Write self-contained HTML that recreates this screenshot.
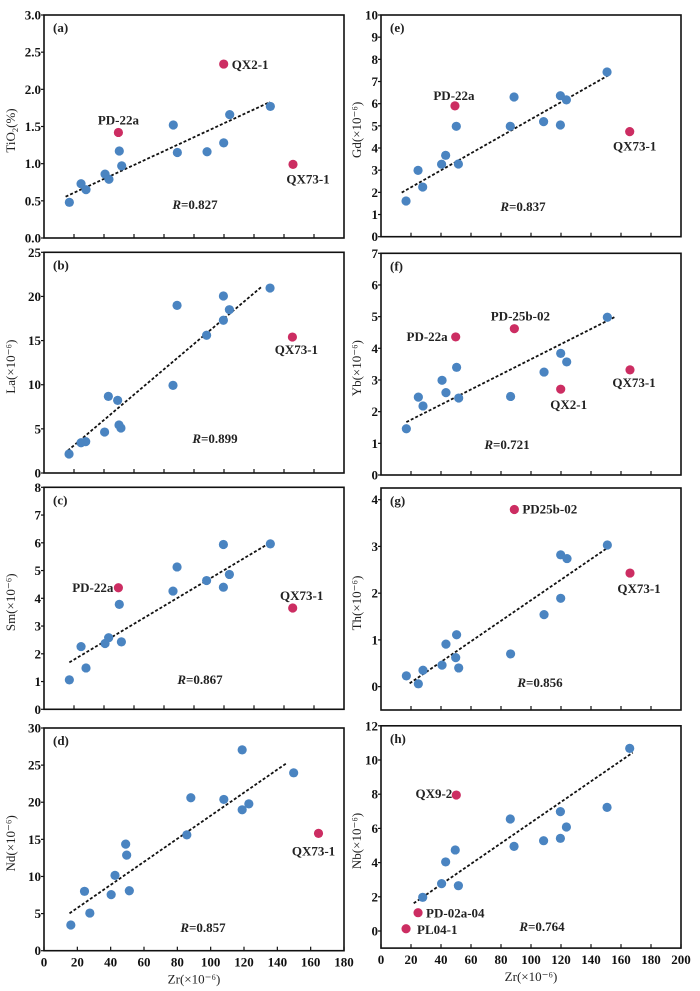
<!DOCTYPE html>
<html><head><meta charset="utf-8"><style>
html,body{margin:0;padding:0;background:#fff;}
svg{display:block;font-family:"Liberation Serif",serif;}
.tk{font-size:13px;font-weight:bold;fill:#111;}
.lab{font-size:13px;font-weight:bold;fill:#222;}
.ttl{font-size:13px;fill:#222;}
</style></head><body>
<svg id="chart" width="700" height="991" viewBox="0 0 700 991" xmlns="http://www.w3.org/2000/svg"></svg>
<script>
// ---- data ----
const aX=[16.9,24.7,28,40.7,43.3,50.2,51.8,86.2,88.9,108.7,119.8,123.8,150.9];
const aY=[0.48,0.73,0.65,0.86,0.79,1.17,0.97,1.52,1.15,1.16,1.28,1.66,1.77];
const aRedX=[49.6,119.8,166];
const aRedY=[1.42,2.34,0.99];
const aRedLabels=["PD-22a","QX2-1","QX73-1"];
const aTrend=[14.4,0.556,150.7,1.83];

const bX=[16.7,24.7,27.8,40.4,42.9,49.1,50,51.3,86,88.7,108.4,119.6,119.6,123.6,150.7];
const bY=[2.15,3.43,3.55,4.64,8.68,8.23,5.44,5.1,9.93,18.99,15.6,20.05,17.3,18.5,20.95];
const bRedX=[165.6];
const bRedY=[15.4];
const bRedLabels=["QX73-1"];
const bTrend=[15.8,2.53,145.1,21.1];

const cX=[16.9,24.7,28,40.7,43.1,50.2,51.6,86,88.7,108.4,119.6,119.6,123.6,150.9];
const cY=[1.06,2.26,1.49,2.37,2.58,3.78,2.43,4.26,5.13,4.64,5.94,4.4,4.86,5.96];
const cRedX=[49.6,165.8];
const cRedY=[4.38,3.65];
const cRedLabels=["PD-22a","QX73-1"];
const cTrend=[16.9,1.69,150,5.98];

const dX=[16.1,24.3,27.5,40.3,42.6,49,49.6,51.2,85.7,88.1,107.9,118.9,118.9,122.9,149.8];
const dY=[3.46,8.0,5.07,7.55,10.15,14.36,12.88,8.08,15.6,20.6,20.38,27.05,18.98,19.78,23.96];
const dRedX=[164.7];
const dRedY=[15.8];
const dRedLabels=["QX73-1"];
const dTrend=[15.3,5.03,145.8,25.3];

const eX=[16.7,24.7,27.8,40.4,43.1,50.2,51.6,86.2,88.7,108.4,119.6,119.6,123.6,150.7];
const eY=[1.61,2.99,2.24,3.27,3.67,4.98,3.28,4.98,6.3,5.19,6.36,5.04,6.17,7.43];
const eRedX=[49.3,165.8];
const eRedY=[5.9,4.74];
const eRedLabels=["PD-22a","QX73-1"];
const eTrend=[13.8,1.99,152.9,7.33];

const fX=[16.9,24.9,28,40.7,43.3,50.4,51.8,86.4,108.7,119.8,123.8,150.9];
const fY=[1.46,2.46,2.18,2.99,2.6,3.4,2.43,2.48,3.25,3.84,3.57,4.98];
const fRedX=[49.8,88.9,119.8,166];
const fRedY=[4.36,4.62,2.71,3.32];
const fRedLabels=["PD-22a","PD-25b-02","QX2-1","QX73-1"];
const fTrend=[16.9,1.67,156.7,5.01];

const gX=[16.9,24.9,28,40.7,43.3,49.8,50.4,51.8,86.4,108.7,119.8,119.8,124,150.9];
const gY=[0.23,0.06,0.35,0.46,0.91,0.62,1.11,0.4,0.7,1.54,1.89,2.82,2.74,3.03];
const gRedX=[88.9,166];
const gRedY=[3.79,2.43];
const gRedLabels=["PD25b-02","QX73-1"];
const gTrend=[19.1,0.07,153.3,3.02];

const hX=[27.8,40.4,43.1,49.5,51.6,86.2,88.7,108.4,119.6,119.6,123.6,150.7,165.8];
const hY=[1.97,2.77,4.04,4.74,2.65,6.55,4.95,5.28,6.98,5.42,6.08,7.23,10.68];
const hRedX=[50.2,24.7,16.7];
const hRedY=[7.95,1.07,0.13];
const hRedLabels=["QX9-2","PD-02a-04","PL04-1"];
const hTrend=[21.8,1.62,167.8,10.43];

const rValues=["0.827","0.899","0.867","0.857","0.837","0.721","0.856","0.764"];
const panelLetters=["(a)","(b)","(c)","(d)","(e)","(f)","(g)","(h)"];
const yTitles=["TiO|2|(%)","La(×10⁻⁶)","Sm(×10⁻⁶)","Nd(×10⁻⁶)","Gd(×10⁻⁶)","Yb(×10⁻⁶)","Th(×10⁻⁶)","Nb(×10⁻⁶)"];

// ---- layout (pixels / styles) ----
const L=[44,344], R=[381,681];
const panels=[
 {id:'a',bx:L,by:[15,238],xd:[0,200],yd:[0,3],yt:[0,0.5,1,1.5,2,2.5,3],dec:1,xl:false,X:aX,Y:aY,RX:aRedX,RY:aRedY,RL:aRedLabels,T:aTrend,
  off:[[0,-8,'middle'],[8,5,'start'],[15,19,'middle']],rp:[195,209],tx:15},
 {id:'b',bx:L,by:[252.3,473],xd:[0,200],yd:[0,25],yt:[0,5,10,15,20,25],dec:0,xl:false,X:bX,Y:bY,RX:bRedX,RY:bRedY,RL:bRedLabels,T:bTrend,
  off:[[4,17,'middle']],rp:[215,443],tx:15},
 {id:'c',bx:L,by:[487.3,709.3],xd:[0,200],yd:[0,8],yt:[0,1,2,3,4,5,6,7,8],dec:0,xl:false,X:cX,Y:cY,RX:cRedX,RY:cRedY,RL:cRedLabels,T:cTrend,
  off:[[-5,4,'end'],[9,-8,'middle']],rp:[200,684],tx:15},
 {id:'d',bx:L,by:[728,950.7],xd:[0,180],yd:[0,30],yt:[0,5,10,15,20,25,30],dec:0,xl:true,xt:[0,20,40,60,80,100,120,140,160,180],X:dX,Y:dY,RX:dRedX,RY:dRedY,RL:dRedLabels,T:dTrend,
  off:[[-5,22,'middle']],rp:[203,932],tx:15},
 {id:'e',bx:R,by:[15,236.7],xd:[0,200],yd:[0,10],yt:[0,1,2,3,4,5,6,7,8,9,10],dec:0,xl:false,X:eX,Y:eY,RX:eRedX,RY:eRedY,RL:eRedLabels,T:eTrend,
  off:[[-1,-6,'middle'],[5,19,'middle']],rp:[523,211],tx:361},
 {id:'f',bx:R,by:[253.3,475],xd:[0,200],yd:[0,7],yt:[0,1,2,3,4,5,6,7],dec:0,xl:false,X:fX,Y:fY,RX:fRedX,RY:fRedY,RL:fRedLabels,T:fTrend,
  off:[[-8,4,'end'],[6,-8,'middle'],[8,20,'middle'],[4,17,'middle']],rp:[507,449],tx:361},
 {id:'g',bx:R,by:[488,710],xd:[0,200],yd:[-0.5,4.25],yt:[0,1,2,3,4],dec:0,xl:false,X:gX,Y:gY,RX:gRedX,RY:gRedY,RL:gRedLabels,T:gTrend,
  off:[[8,4,'start'],[9,20,'middle']],rp:[540,687],tx:361},
 {id:'h',bx:R,by:[725.8,948.1],xd:[0,200],yd:[-1,12],yt:[0,2,4,6,8,10,12],dec:0,xl:true,xt:[0,20,40,60,80,100,120,140,160,180,200],X:hX,Y:hY,RX:hRedX,RY:hRedY,RL:hRedLabels,T:hTrend,
  off:[[-4,3,'end'],[8,5,'start'],[11,5,'start']],rp:[542,931],tx:361}
];

const NS='http://www.w3.org/2000/svg';
const svg=document.getElementById('chart');
function mk(tag,attrs,parent){const e=document.createElementNS(NS,tag);for(const k in attrs)e.setAttribute(k,attrs[k]);(parent||svg).appendChild(e);return e;}

panels.forEach((p,i)=>{
  const g=mk('g',{});
  
  
  const sx=v=>p.bx[0]+(v-p.xd[0])/(p.xd[1]-p.xd[0])*(p.bx[1]-p.bx[0]);
  const sy=v=>p.by[1]-(v-p.yd[0])/(p.yd[1]-p.yd[0])*(p.by[1]-p.by[0]);
  const fr=mk('rect',{x:p.bx[0],y:p.by[0],width:p.bx[1]-p.bx[0],height:p.by[1]-p.by[0],fill:'none',stroke:'#111','stroke-width':1.6},g);
  
  
  p.yt.forEach(v=>{
    const y=sy(v);
    mk('line',{x1:p.bx[0]-3,x2:p.bx[0],y1:y,y2:y,stroke:'#111','stroke-width':1.2},g);
    const t=mk('text',{x:p.bx[0]-3,y:y+4.5,'text-anchor':'end',class:'tk'},g);
    t.textContent=v.toFixed(p.dec);
    
    
  });
  const xt=p.xt||[20,40,60,80,100,120,140,160,180];
  xt.forEach(v=>{
    const x=sx(v);
    mk('line',{x1:x,x2:x,y1:p.by[1],y2:p.by[1]-4,stroke:'#111','stroke-width':1.2},g);
    if(p.xl){
      const t=mk('text',{x:x,y:p.by[1]+16,'text-anchor':'middle',class:'tk'},g);
      t.textContent=String(v);
      
      
    }
  });
  if(p.xl){
    const t=mk('text',{x:(p.bx[0]+p.bx[1])/2,y:p.by[1]+33,'text-anchor':'middle',class:'ttl'},g);
    t.textContent='Zr(×10⁻⁶)';
    
    
  }
  const cy=(p.by[0]+p.by[1])/2, tx=p.tx;
  const yt=mk('text',{x:tx,y:cy+4,'text-anchor':'middle',class:'ttl',transform:`rotate(-90 ${tx} ${cy+4})`},g);
  
  
  const parts=yTitles[i].split('|');
  if(parts.length===3){
    const a=mk('tspan',{},yt);a.textContent=parts[0];
    const b=mk('tspan',{'font-size':'8.5px',dy:3},yt);b.textContent=parts[1];
    const c=mk('tspan',{dy:-3},yt);c.textContent=parts[2];
  } else yt.textContent=yTitles[i];
  const pl=mk('text',{x:p.bx[0]+9,y:p.by[0]+17,class:'lab'},g);
  pl.textContent=panelLetters[i];
  
  
  const tl=mk('line',{x1:sx(p.T[0]),y1:sy(p.T[1]),x2:sx(p.T[2]),y2:sy(p.T[3]),stroke:'#111','stroke-width':1.8,'stroke-dasharray':'3 2'},g);
  
  
  p.X.forEach((xv,j)=>{
    const c=mk('circle',{cx:sx(xv),cy:sy(p.Y[j]),r:4.6,fill:'#4a84c1'},g);
    
    
  });
  p.RX.forEach((xv,j)=>{
    const x=sx(xv),y=sy(p.RY[j]);
    const c=mk('circle',{cx:x,cy:y,r:4.6,fill:'#cc2d62'},g);
    
    
    const o=p.off[j];
    const t=mk('text',{x:x+o[0],y:y+o[1],'text-anchor':o[2],class:'lab'},g);
    t.textContent=p.RL[j];
    
    
  });
  const rt=mk('text',{x:p.rp[0],y:p.rp[1],'text-anchor':'middle',class:'lab'},g);
  
  
  const ri=mk('tspan',{'font-style':'italic'},rt);ri.textContent='R';
  const rv=mk('tspan',{},rt);rv.textContent='='+rValues[i];
});
</script>
</body></html>
